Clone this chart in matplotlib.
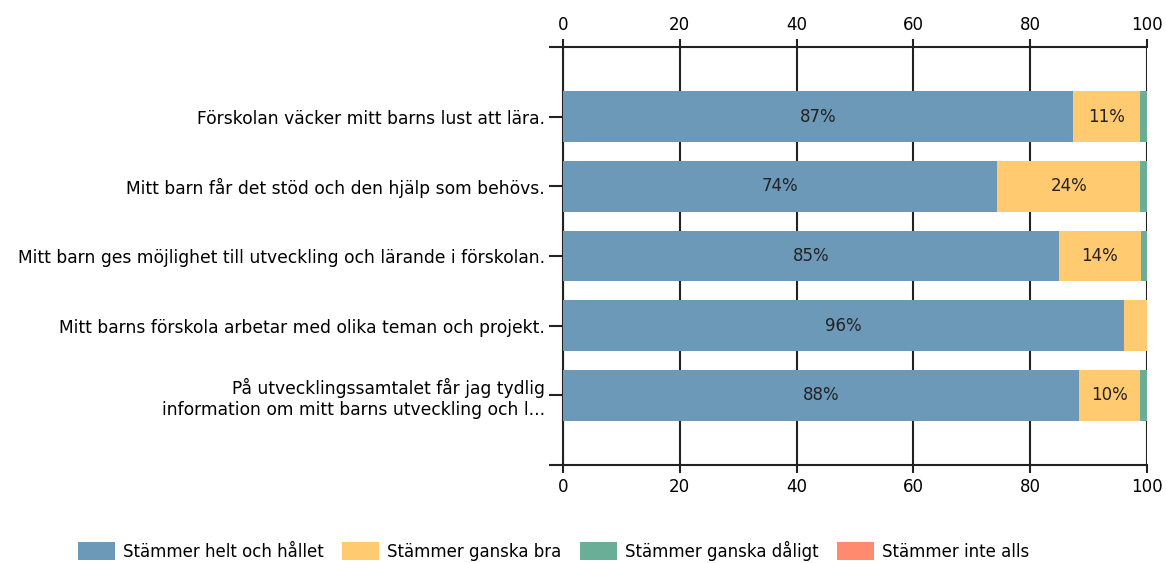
import matplotlib.pyplot as plt
import numpy as np

plt.rcParams['font.family'] = ['DejaVu Sans']

questions = [
    'Förskolan väcker mitt barns lust att lära.',
    'Mitt barn får det stöd och den hjälp som behövs.',
    'Mitt barn ges möjlighet till utveckling och lärande i förskolan.',
    'Mitt barns förskola arbetar med olika teman och projekt.',
    'På utvecklingssamtalet får jag tydlig\ninformation om mitt barns utveckling och l...',
]
series_names = ['Stämmer helt och hållet', 'Stämmer ganska bra',
                'Stämmer ganska dåligt', 'Stämmer inte alls']
helt = [87.4, 74.4, 84.9, 96.0, 88.4]
ganska_bra = [11.4, 24.4, 14.0, 4.0, 10.4]
ganska_daligt = [1.2, 1.2, 1.1, 0.0, 1.2]
inte_alls = [0.0, 0.0, 0.0, 0.0, 0.0]
colors = ['#6d99b8', '#ffca70', '#6aae98', '#ff8a6e']
xticks = [0, 20, 40, 60, 80, 100]

fig = plt.figure(figsize=(11.66, 5.63), dpi=100)
ax = fig.add_axes([563 / 1166, 1 - 465 / 563, 584 / 1166, 418 / 563])

y = np.arange(len(questions))
left = np.zeros(len(questions))
for name, vals, col in zip(series_names, [helt, ganska_bra, ganska_daligt, inte_alls], colors):
    vals = np.array(vals)
    ax.barh(y, vals, left=left, height=0.73, color=col, label=name, zorder=3)
    for yi, l, v in zip(y, left, vals):
        if v >= 8:
            ax.text(l + v / 2, yi, f'{round(v)}%', ha='center', va='center',
                    fontsize=12, color='#222222', zorder=4)
    left += vals

ax.set_xlim(0, 100)
ax.set_ylim(5, -1)
ax.set_xticks(xticks)
ax.tick_params(axis='x', top=True, labeltop=True, bottom=True, labelbottom=True,
               direction='out', length=6, width=1.5, color='#222222', labelsize=12, pad=3)
ax.set_yticks(list(y) + [-1, 5])
ax.set_yticklabels(questions + ['', ''], linespacing=1.2)
ax.tick_params(axis='y', length=10, width=1.5, color='#222222', labelsize=12.3, pad=3)
ax.grid(axis='x', color='#222222', linewidth=1.5, zorder=0)
for s in ['left', 'top', 'bottom']:
    ax.spines[s].set_linewidth(1.5)
    ax.spines[s].set_color('#222222')
ax.spines['right'].set_visible(False)

fig.legend(loc='center', bbox_to_anchor=(0.475, 0.022), ncol=4, frameon=False,
           fontsize=12, handlelength=2.2, handleheight=1.2, columnspacing=1.1,
           handletextpad=0.5)

fig.savefig('out.png', dpi=100)
